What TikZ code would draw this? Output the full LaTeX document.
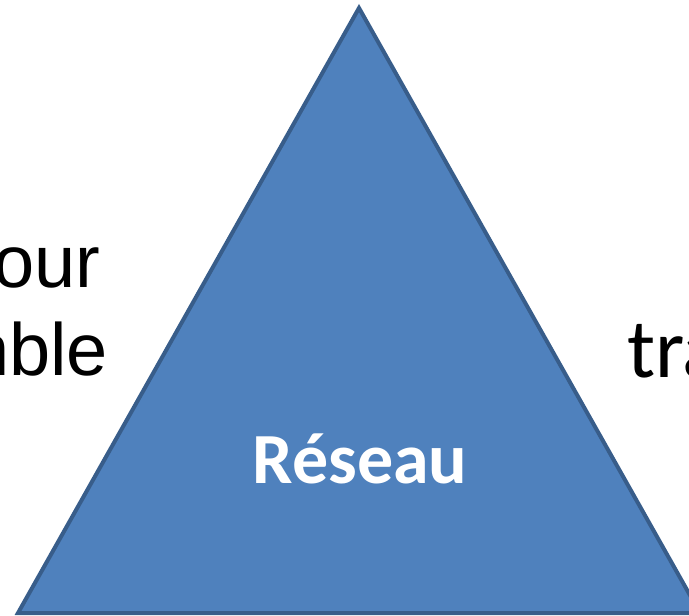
\documentclass[tikz,border=0pt]{standalone}
\usepackage{fontspec}
\setmainfont{Liberation Sans}
\newfontfamily\calib{Carlito}
\definecolor{trifill}{HTML}{4F81BD}
\definecolor{tristroke}{HTML}{385D8A}
\begin{document}
\begin{tikzpicture}[x=1pt,y=-1pt,
  lbl/.style={inner sep=0pt,outer sep=0pt,text=black}]
\useasboundingbox (0,0) rectangle (689,616);
\clip (0,0) rectangle (689,616);
\coordinate (apex) at (359,8);
\coordinate (bl) at (18,613);
\coordinate (br) at (700,613);
\draw[fill=trifill,draw=tristroke,line width=4pt,line join=miter] (apex) -- (bl) -- (br) -- cycle;
\node[lbl,anchor=base,text=white,font=\calib\bfseries\fontsize{72}{84}\selectfont] (res) at (360,483) {Réseau};
\node[lbl,anchor=base east,font=\fontsize{74}{88}\selectfont] (l1) at (100,287) {our};
\node[lbl,anchor=base east,font=\fontsize{74}{88}\selectfont] (l2) at (108,375) {nble};
\node[lbl,anchor=base west,font=\calib\fontsize{84}{100}\selectfont] (r1) at (627,377) {tra};
\end{tikzpicture}
\end{document}
